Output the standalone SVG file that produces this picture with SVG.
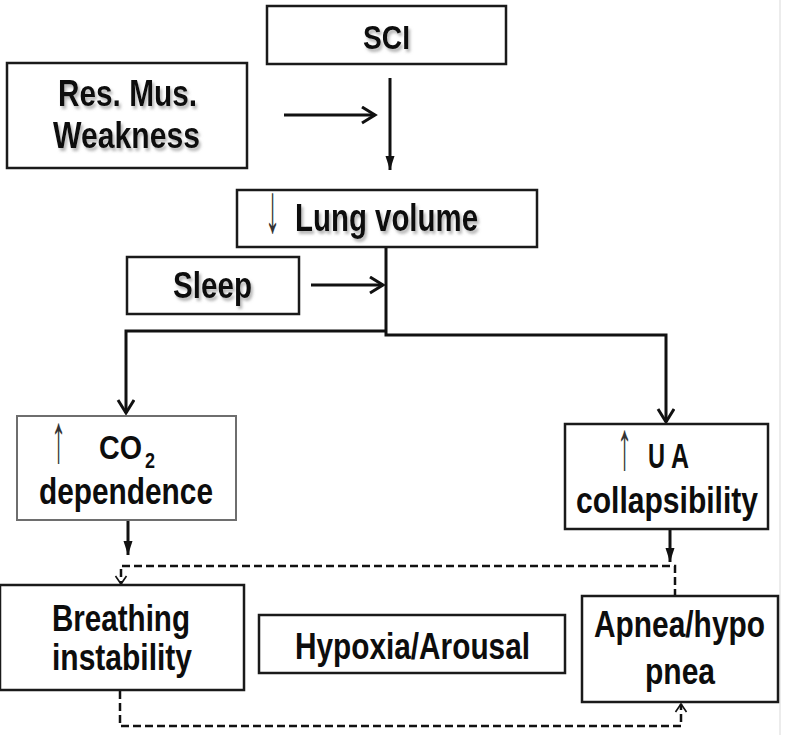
<svg xmlns="http://www.w3.org/2000/svg" width="785" height="735" viewBox="0 0 785 735">
  <style>
    .box { fill: #ffffff; stroke: #1a1a1a; stroke-width: 2.5; }
    .box-grey { fill: #ffffff; stroke: #6e6e6e; stroke-width: 2; }
    .lbl { font-family: "Liberation Sans Narrow", "Liberation Sans", Arial, sans-serif; font-weight: bold; fill: #0d0d0d; }
    .sym { font-family: "Liberation Sans", Arial, sans-serif; font-weight: normal; fill: #333333; font-size: 30px; }
    .conn { fill: none; stroke: #111111; stroke-width: 3; }
    .dash { fill: none; stroke: #111111; stroke-width: 2.5; stroke-dasharray: 8 4; }
  </style>
  <defs>
    <filter id="shadow" x="-10%" y="-20%" width="130%" height="160%">
      <feDropShadow dx="2" dy="3" stdDeviation="1.5" flood-color="#777777" flood-opacity="0.55"/>
    </filter>
    <marker id="chev" markerUnits="userSpaceOnUse" markerWidth="20" markerHeight="20" refX="15" refY="9" orient="auto">
      <path d="M2,1 L15,9 L2,17" fill="none" stroke="#111111" stroke-width="3"/>
    </marker>
    <marker id="solid" markerUnits="userSpaceOnUse" markerWidth="16" markerHeight="12" refX="14" refY="6" orient="auto">
      <path d="M0,1.5 L14,6 L0,10.5 Z" fill="#111111"/>
    </marker>
    <marker id="thin" markerUnits="userSpaceOnUse" markerWidth="12" markerHeight="14" refX="9" refY="7" orient="auto">
      <path d="M1,1.5 L9,7 L1,12.5" fill="none" stroke="#111111" stroke-width="1.6"/>
    </marker>
  </defs>

  <rect x="0" y="0" width="785" height="735" fill="#ffffff"/>
  <line x1="780" y1="0" x2="780" y2="735" stroke="#ececec" stroke-width="2"/>

  <g id="connectors">
    <line class="conn" x1="284" y1="115" x2="375" y2="115" marker-end="url(#chev)"/>
    <line class="conn" x1="390" y1="78" x2="390" y2="170" stroke-width="2.5" marker-end="url(#solid)"/>
    <line class="conn" x1="311" y1="285" x2="383" y2="285" marker-end="url(#chev)"/>
    <polyline class="conn" points="386,247 386,335 666,335 666,422" marker-end="url(#chev)"/>
    <polyline class="conn" points="386,331 126,331 126,413" marker-end="url(#chev)"/>
    <line class="conn" x1="128" y1="521" x2="128" y2="555" marker-end="url(#solid)"/>
    <line class="conn" x1="670" y1="529" x2="670" y2="562" marker-end="url(#solid)"/>
    <polyline class="dash" points="675,597 675,566 121,566 121,584" marker-end="url(#thin)"/>
    <polyline class="dash" points="120,691 120,726 681,726 681,704" marker-end="url(#thin)"/>
  </g>

  <g id="node-sci">
    <rect class="box" x="267" y="6" width="239" height="58"/>
    <text class="lbl" x="363" y="49" font-size="34" textLength="47" lengthAdjust="spacingAndGlyphs" filter="url(#shadow)">SCI</text>
  </g>

  <g id="node-res-mus-weakness">
    <rect class="box" x="7" y="63" width="240" height="105"/>
    <text class="lbl" font-size="37" filter="url(#shadow)">
      <tspan x="58" y="106" textLength="139" lengthAdjust="spacingAndGlyphs">Res. Mus.</tspan>
      <tspan x="53" y="148" textLength="147" lengthAdjust="spacingAndGlyphs">Weakness</tspan>
    </text>
  </g>

  <g id="node-lung-volume">
    <rect class="box" x="237" y="190" width="300" height="57"/>
    <text class="sym" transform="translate(265,232) scale(1,2.3)">↓</text>
    <text class="lbl" x="295" y="231" font-size="38" textLength="183" lengthAdjust="spacingAndGlyphs" filter="url(#shadow)">Lung volume</text>
  </g>

  <g id="node-sleep">
    <rect class="box" x="127" y="257" width="172" height="57"/>
    <text class="lbl" x="173" y="298" font-size="37" textLength="79" lengthAdjust="spacingAndGlyphs" filter="url(#shadow)">Sleep</text>
  </g>

  <g id="node-co2-dependence">
    <rect class="box-grey" x="17" y="416" width="219" height="104"/>
    <text class="sym" transform="translate(51,462) scale(1,2.3)">↑</text>
    <text class="lbl" font-size="34">
      <tspan x="99" y="459" textLength="43" lengthAdjust="spacingAndGlyphs">CO</tspan><tspan x="145" y="468" font-size="22" textLength="10" lengthAdjust="spacingAndGlyphs">2</tspan>
    </text>
    <text class="lbl" x="39" y="504" font-size="36" textLength="174" lengthAdjust="spacingAndGlyphs">dependence</text>
  </g>

  <g id="node-ua-collapsibility">
    <rect class="box" x="565" y="424" width="203" height="105"/>
    <text class="sym" transform="translate(617,469) scale(1,2.3)">↑</text>
    <text class="lbl" font-size="35"><tspan x="648" y="468" textLength="17" lengthAdjust="spacingAndGlyphs">U</tspan><tspan x="671" y="468" textLength="18" lengthAdjust="spacingAndGlyphs">A</tspan></text>
    <text class="lbl" x="576" y="513" font-size="37" textLength="182" lengthAdjust="spacingAndGlyphs">collapsibility</text>
  </g>

  <g id="node-breathing-instability">
    <rect class="box" x="0" y="585" width="244" height="105"/>
    <text class="lbl" font-size="37">
      <tspan x="52" y="631" textLength="138" lengthAdjust="spacingAndGlyphs">Breathing</tspan>
      <tspan x="52" y="670" textLength="140" lengthAdjust="spacingAndGlyphs">instability</tspan>
    </text>
  </g>

  <g id="node-hypoxia-arousal">
    <rect class="box" x="259" y="615" width="306" height="58"/>
    <text class="lbl" x="295" y="659" font-size="37" textLength="235" lengthAdjust="spacingAndGlyphs">Hypoxia/Arousal</text>
  </g>

  <g id="node-apnea-hypopnea">
    <rect class="box" x="582" y="596" width="196" height="106"/>
    <text class="lbl" font-size="36">
      <tspan x="594" y="637" textLength="171" lengthAdjust="spacingAndGlyphs">Apnea/hypo</tspan>
      <tspan x="645" y="684" textLength="70" lengthAdjust="spacingAndGlyphs">pnea</tspan>
    </text>
  </g>
</svg>
